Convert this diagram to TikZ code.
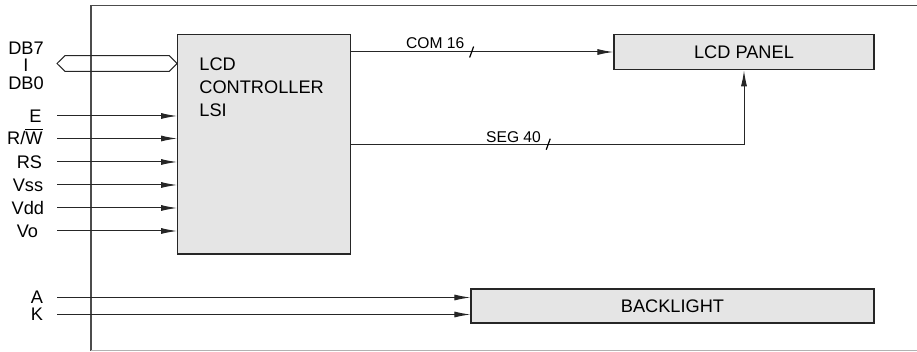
\documentclass[tikz,border=0pt]{standalone}
\usepackage{fontspec}
\setmainfont{Liberation Sans}
\usetikzlibrary{arrows.meta}

\newcommand{\rwbar}{R/$\overline{\mbox{W}}$}

\tikzset{
  block/.style={draw=black!85, fill=black!10, line width=0.6pt, inner sep=0pt,
    font=\fontsize{9.1}{11.5}\selectfont},
  sig/.style={-{Latex[length=8pt,width=3pt]}, line width=0.5pt, draw=black!85},
  pinlbl/.style={anchor=base east, inner sep=0pt, font=\fontsize{9.1}{11}\selectfont},
  buslbl/.style={anchor=base east, inner sep=0pt, font=\fontsize{7.8}{9}\selectfont},
  tick/.style={line width=0.6pt},
  frame/.style={line width=0.6pt, black!70}
}

\begin{document}
\begin{tikzpicture}[x=0.5pt, y=-0.5pt]
    \useasboundingbox (0,0) rectangle (917,352);
    % module outline
    \draw[frame] (917,5.7) -- (91,5.7) -- (91,351);
    \draw[frame, black!30] (91,350.7) -- (917,350.7);

    % blocks
    \node[block, minimum width=86.3pt, minimum height=109.85pt] (ctrl) at (264,144.2) {};
    \node[anchor=north west, align=left, inner sep=0pt, font=\fontsize{9.1}{11.5}\selectfont]
        (ctrltxt) at (199,57) {LCD\\CONTROLLER\\LSI};
    \node[block, minimum width=130pt, minimum height=17.7pt] (panel) at (744,52) {LCD PANEL};
    \node[block, minimum width=201.5pt, minimum height=17pt] (blight) at (672.5,306) {BACKLIGHT};

    % data bus
    \node[inner sep=0pt, font=\fontsize{9.1}{11}\selectfont] (db7) at (26,47.8) {DB7};
    \node[inner sep=0pt, font=\fontsize{9.1}{11}\selectfont] (dbi) at (26,65) {I};
    \node[inner sep=0pt, font=\fontsize{9.1}{11}\selectfont] (db0) at (26,83.5) {DB0};
    \draw[line width=0.5pt, black!85] (57,63.5) -- (65,55.7) -- (169.3,55.7)
        -- (ctrl.west |- 0,63.5) -- (169.3,71.3) -- (65,71.3) -- cycle;

    % control and supply inputs
    \foreach \name/\txt/\x/\y in {e/E/42/116, rw/\rwbar/43/138.5, rs/RS/42.5/162,
                                 vss/Vss/43.5/185, vdd/Vdd/44.5/208, vo/Vo/38.5/231} {
        \node[pinlbl] (lbl\name) at (\x,{\y+6.5}) {\txt};
        \coordinate (in\name) at (57,\y);
        \draw[sig] (in\name) -- (in\name -| ctrl.west);
    }

    % backlight supply
    \foreach \name/\y in {A/297.5, K/314.5} {
        \node[pinlbl] (lbl\name) at (43.5,{\y+6.5}) {\name};
        \coordinate (in\name) at (57,\y);
        \draw[sig] (in\name) -- (in\name -| blight.west);
    }

    % controller to panel
    \draw[sig] (ctrl.east |- panel.west) -- coordinate[pos=0.46] (comtick) (panel.west);
    \draw[tick] (comtick) ++(-2,5.5) -- ++(4,-11);
    \node[buslbl, xshift=-3.5pt, yshift=1.5pt] (comlbl) at (comtick) {COM 16};

    \draw[sig] (ctrl.east) -| coordinate[pos=0.251] (segtick) (panel.south);
    \draw[tick] (segtick) ++(-2,5.5) -- ++(4,-11);
    \node[buslbl, xshift=-3.5pt, yshift=0.9pt] (seglbl) at (segtick) {SEG 40};
\end{tikzpicture}
\end{document}
